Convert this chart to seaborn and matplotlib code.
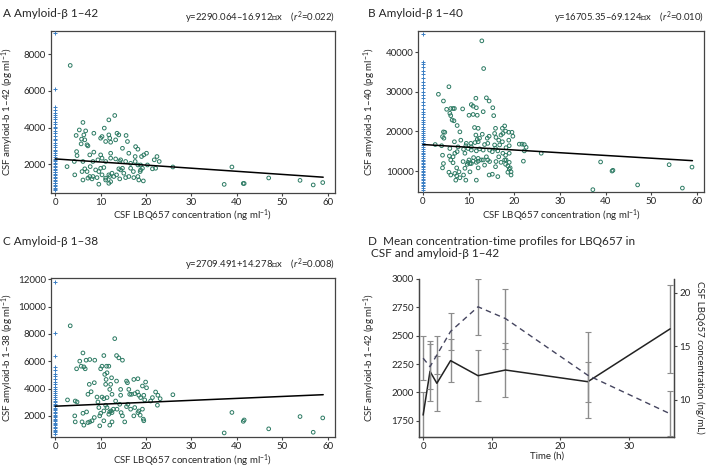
import numpy as np
import pandas as pd
import seaborn as sns
import matplotlib.pyplot as plt

# ---- panel A: amyloid-beta 1-42 vs CSF LBQ657 ----
a_x = [3.3, 13.1, 11.8, 6.1, 10.8, 5.3, 6.7, 6.3, 4.6, 8.5, 10.3, 11.8, 13.6, 14.0, 15.6,
       5.8, 6.5, 10.0, 12.0, 13.3, 5.7, 7.0, 11.1, 12.2, 15.9, 7.2, 8.5, 7.6, 4.7, 4.8,
       10.0, 12.2, 14.8, 16.2, 17.7, 18.2, 19.0, 19.5, 20.1, 17.6, 2.6, 4.2, 6.1, 8.3, 9.4,
       10.3, 11.1, 12.2, 13.3, 14.4, 14.2, 15.5, 16.6, 17.6, 18.2, 18.8, 20.3, 21.8, 22.4, 22.9,
       22.1, 21.4, 4.3, 5.9, 6.5, 7.0, 7.7, 7.6, 6.1, 7.2, 8.1, 8.3, 9.6, 10.0, 10.7,
       10.3, 11.1, 11.8, 12.0, 12.5, 12.9, 12.2, 11.8, 13.5, 14.0, 14.4, 14.8, 15.1, 15.5, 16.2,
       16.6, 17.2, 17.3, 18.2, 18.4, 18.8, 19.2, 19.4, 18.7, 9.6, 11.1, 14.2, 8.9, 9.2,
       25.9, 37.2, 38.9, 41.4, 41.6, 47.0, 53.9, 56.8, 58.9]
a_y = [7390, 4660, 4420, 4280, 3970, 3870, 3820, 3600, 3570, 3690, 3510, 3600, 3690, 3600, 3570,
       3370, 3330, 3420, 3420, 3330, 3110, 3060, 3240, 3200, 3240, 3000, 2660, 2510, 2690, 2470,
       2510, 2600, 2870, 2600, 2960, 2820, 2420, 2510, 2600, 2420, 1870, 2150, 2150, 2150, 2240,
       2330, 2150, 2330, 2290, 2240, 2150, 2150, 2050, 2150, 1960, 1960, 1960, 2240, 2420, 2150,
       1780, 1750, 1420, 1600, 1750, 1600, 1870, 1330, 1140, 1240, 1200, 1330, 1600, 1780, 1820,
       1420, 1240, 1420, 1330, 1510, 1330, 1050, 960, 1420, 1750, 1690, 1780, 1510, 1270, 1330,
       1780, 1600, 1270, 1330, 1140, 1690, 1780, 1090, 1600, 910, 1140, 1200, 1690, 1270,
       1850, 900, 1850, 950, 950, 1250, 1120, 870, 1000]
a_zero = [9150, 6100, 5100, 4950, 4800, 4700, 4550, 4450, 4300, 4200, 4050, 3950, 3800, 3700,
          3550, 3400, 3300, 3150, 3050, 2950, 2800, 2700, 2600, 2500, 2400, 2300, 2250, 2150,
          2050, 2000, 1900, 1850, 1750, 1700, 1600, 1550, 1450, 1400, 1300, 1250, 1150, 1100,
          1000, 950, 850, 800, 700, 650, 600]

# ---- panel B: amyloid-beta 1-40 ----
b_x = [12.9, 13.3, 5.7, 3.4, 4.5, 11.6, 13.9, 14.5, 10.6, 11.0, 11.7, 6.1, 6.6, 6.9, 8.7,
       5.2, 15.3, 13.2, 5.9, 6.1, 6.4, 6.8, 10.1, 11.0, 11.9, 15.5, 7.5, 11.3, 12.1, 17.9,
       17.4, 18.1, 8.1, 15.9, 13.0, 14.5, 15.7, 17.5, 18.8, 19.5, 19.7, 17.1, 4.5, 4.8, 4.3,
       4.6, 11.6, 12.4, 14.1, 8.3, 11.9, 16.0, 14.2, 16.6, 17.4, 18.8, 6.9, 9.5, 10.5, 11.4,
       12.1, 13.5, 16.8, 15.7, 2.7, 4.1, 9.4, 10.6, 7.7, 14.6, 15.9, 18.2, 18.9, 21.1, 21.7,
       22.2, 22.6, 5.9, 8.9, 9.9, 12.4, 13.2, 11.7, 4.3, 5.8, 6.6, 7.5, 9.2, 10.6, 15.2,
       16.4, 17.5, 18.1, 18.9, 22.2, 6.1, 7.0, 10.1, 11.1, 12.1, 12.8, 13.9, 16.6, 17.9, 4.5,
       6.6, 8.8, 9.7, 10.3, 11.0, 12.1, 13.2, 14.2, 16.0, 18.2, 18.9, 22.0, 4.3, 7.4, 9.2,
       9.9, 10.6, 11.7, 12.1, 13.5, 14.6, 15.9, 17.1, 18.1, 18.6, 19.1, 5.7, 6.1, 7.0, 7.4,
       7.9, 8.1, 7.2, 8.9, 9.4, 10.3, 11.7, 14.5, 15.2, 16.4, 18.6, 19.3, 19.3, 18.9,
       25.9, 37.2, 38.9, 41.4, 41.6, 47.0, 53.9, 56.8, 58.9]
b_y = [42900, 35900, 31300, 29400, 27700, 28400, 28500, 27700, 26800, 26400, 26000, 25800, 25800, 25800, 25700,
       25600, 26000, 25000, 24600, 24000, 22900, 22700, 24100, 24300, 24100, 24000, 21500, 21000, 20800, 21400,
       20800, 20100, 19900, 20800, 19300, 18800, 19500, 19500, 19800, 19800, 18800, 19100, 19900, 19800, 18700,
       18300, 19100, 18300, 18300, 17800, 18000, 18500, 17000, 17800, 17400, 17800, 17400, 17000, 17000, 17200,
       17400, 16700, 16600, 16600, 16700, 16400, 16400, 16100, 16100, 15300, 15700, 15900, 16400, 16800, 16800,
       16700, 16000, 15700, 15500, 15700, 15600, 15300, 15100, 14000, 13800, 13600, 14900, 14500, 15300, 14900,
       15100, 14500, 14000, 14500, 15100, 12800, 14500, 12800, 13400, 13200, 12800, 13600, 13600, 12800, 11900,
       12100, 12400, 11700, 11900, 12500, 12500, 12800, 12800, 12400, 12800, 12200, 12500, 10800, 10800, 10700,
       12200, 11900, 12200, 10800, 11500, 12400, 11100, 12200, 11700, 11300, 10800, 9700, 9000, 9400, 8800,
       9800, 8300, 7700, 9000, 7700, 9800, 7700, 9000, 9200, 8600, 9700, 9000, 9800, 10500,
       14500, 5300, 12300, 10000, 10200, 6500, 11600, 5700, 11000]
b_zero = [44600, 37600, 37000, 36200, 35300, 34500, 33600, 32600, 31800, 30900, 30000, 29200,
          28400, 27500, 26600, 25700, 25000, 24300, 23600, 23000, 22400, 21800, 21200, 20600,
          20100, 19500, 19000, 18500, 18000, 17500, 17000, 16500, 16000, 15500, 15000, 14600,
          14200, 13800, 13300, 12900, 12500, 12100, 11700, 11300, 10900, 10500, 10100, 9700,
          9300, 8900, 8500, 8100, 7700, 7300, 6900, 6500, 6100, 5700, 5300]

# ---- panel C: amyloid-beta 1-38 ----
c_x = [3.3, 13.1, 10.7, 13.5, 14.0, 14.8, 6.1, 5.4, 6.8, 7.6, 4.7, 5.7, 6.3, 6.6, 8.7,
       10.3, 11.3, 11.8, 10.0, 10.9, 11.4, 12.4, 11.2, 12.2, 11.1, 7.5, 8.6, 13.5, 15.7, 15.9,
       17.3, 18.2, 19.2, 19.9, 20.1, 7.2, 7.9, 9.2, 10.3, 10.7, 11.4, 12.0, 12.5, 13.3, 14.4,
       14.4, 16.2, 16.4, 16.8, 17.5, 18.1, 18.4, 18.8, 19.5, 19.7, 21.4, 22.1, 22.6, 23.1, 22.5,
       21.0, 2.7, 4.4, 4.8, 4.3, 4.4, 6.1, 6.9, 5.9, 6.3, 7.2, 7.6, 8.1, 8.6, 9.6,
       9.8, 10.0, 10.7, 10.7, 11.4, 11.8, 12.0, 12.3, 12.5, 12.8, 9.8, 12.0, 12.5, 13.6, 14.2,
       14.5, 14.8, 15.3, 16.0, 16.6, 17.5, 17.3, 18.2, 18.4, 18.7, 19.2, 19.4, 19.5, 15.7, 9.4,
       11.1, 25.9, 37.2, 38.9, 41.4, 41.6, 47.0, 53.9, 56.8, 58.9]
c_y = [8600, 7660, 6420, 6420, 6250, 6080, 6610, 6010, 6080, 6130, 5450, 5640, 5590, 5450, 6080,
       5640, 5640, 5640, 5450, 5040, 5160, 4790, 4670, 4310, 4310, 4310, 4430, 4550, 4550, 4430,
       4670, 4720, 4190, 4480, 4060, 3580, 3770, 3380, 3380, 3260, 3340, 3940, 3580, 3090, 3510,
       3940, 3940, 3580, 3580, 3630, 3750, 3510, 3340, 3510, 3170, 3340, 3750, 3510, 3260, 2780,
       3090, 3170, 3090, 3020, 2000, 1560, 2190, 2290, 1560, 1320, 1510, 1560, 1640, 1880, 2610,
       2000, 2190, 2360, 1640, 2610, 2120, 2290, 2360, 2240, 2490, 1270, 1320, 1560, 2490, 2850,
       2240, 2000, 1560, 2850, 2490, 2610, 2000, 2240, 2360, 2050, 2490, 1760, 1640, 2680, 3020,
       2780, 3550, 750, 2250, 1600, 1700, 1050, 1950, 800, 1850]
c_zero = [11800, 8050, 6400, 5600, 5350, 5100, 4900, 4700, 4500, 4300, 4100, 3950, 3800, 3650,
          3500, 3350, 3200, 3100, 3000, 2900, 2800, 2700, 2600, 2500, 2400, 2300, 2200, 2100,
          2000, 1900, 1800, 1700, 1600, 1500, 1400, 1300, 1200, 1100, 1000, 900, 800, 700]

# fitted lines as printed on the figure: (intercept, slope, label)
fits = {
    "A": (2290.064, -16.912, "y=2290.064\u201316.912\u2217x    ($r^2$=0.022)"),
    "B": (16705.35, -69.124, "y=16705.35\u201369.124\u2217x    ($r^2$=0.010)"),
    "C": (2709.491, 14.278, "y=2709.491+14.278\u2217x    ($r^2$=0.008)"),
}

# ---- panel D: mean profiles over time ----
time_h = [0, 1, 2, 4, 8, 12, 24, 36]
abeta42_mean = [1800, 2185, 2080, 2280, 2147, 2197, 2094, 2560]
abeta42_err = [200, 265, 245, 190, 227, 238, 175, 385]
lbq_mean = [13.9, 13.1, 14.2, 16.4, 18.7, 17.6, 12.3, 8.7]
lbq_err = [2.05, 2.1, 1.8, 1.7, 2.6, 2.8, 4.0, 2.1]

sns.set_style("ticks")
plt.rcParams["font.family"] = ["Lato", "DejaVu Sans"]
plt.rcParams["mathtext.fontset"] = "custom"
plt.rcParams["mathtext.it"] = "Lato:italic"
plt.rcParams["mathtext.rm"] = "Lato"

GREEN = "#2c7a63"
BLUE = "#3b7fc4"
SPINE = "#444444"
XLAB = "CSF LBQ657 concentration (ng ml$^{-1}$)"

fig = plt.figure(figsize=(7.09, 4.68), dpi=100)
ax_a = fig.add_axes([0.0715, 0.5883, 0.401, 0.3455])
ax_b = fig.add_axes([0.590, 0.589, 0.4034, 0.3447])
ax_c = fig.add_axes([0.0715, 0.0655, 0.401, 0.341])
ax_d = fig.add_axes([0.591, 0.0669, 0.360, 0.337])


def style_ticks(ax):
    ax.tick_params(labelsize=7, length=2.5, width=0.8, color=SPINE, pad=1)
    for s in ax.spines.values():
        s.set_color(SPINE)
        s.set_linewidth(0.9)


def scatter_panel(ax, xs, ys, zeros, fit, ylim, yticks, ylabel, ylab_x):
    sns.scatterplot(x=[0] * len(zeros), y=zeros, ax=ax, marker="+", color=BLUE,
                    s=7, linewidth=0.7, zorder=3)
    sns.scatterplot(x=xs, y=ys, ax=ax, marker="o", color=GREEN, s=7,
                    linewidth=0.7, zorder=3)
    pts = ax.collections[-1]
    pts.set_facecolor("none")
    pts.set_edgecolor(GREEN)
    lx = np.array([0, 59.0])
    sns.lineplot(x=lx, y=fit[0] + fit[1] * lx, ax=ax, color="black", lw=1.1, zorder=4)
    ax.set_xlim(-1, 61.6)
    ax.set_ylim(*ylim)
    ax.set_xticks(range(0, 61, 10))
    ax.set_yticks(yticks)
    ax.set_xlabel(XLAB, fontsize=7, labelpad=0.5)
    ax.set_ylabel(ylabel, fontsize=7)
    ax.yaxis.set_label_coords(ylab_x, 0.5)
    style_ticks(ax)
    ax.text(1.0, 1.03, fit[2], transform=ax.transAxes, ha="right", va="bottom", fontsize=6.8)


scatter_panel(ax_a, a_x, a_y, a_zero, fits["A"], (448, 9270), [2000, 4000, 6000, 8000],
              "CSF amyloid-b 1\u201342 (pg ml$^{-1}$)", -0.122)
scatter_panel(ax_b, b_x, b_y, b_zero, fits["B"], (4620, 45380), [10000, 20000, 30000, 40000],
              "CSF amyloid-b 1\u201340 (pg ml$^{-1}$)", -0.141)
scatter_panel(ax_c, c_x, c_y, c_zero, fits["C"], (427, 12120), list(range(2000, 12001, 2000)),
              "CSF amyloid-b 1\u201338 (pg ml$^{-1}$)", -0.122)

# panel D with twin axis
ax_d2 = ax_d.twinx()
ax_d.errorbar(time_h, abeta42_mean, yerr=abeta42_err, fmt="none", ecolor="#8c8c8c",
              elinewidth=1, capsize=2.5, capthick=0.8, zorder=2)
sns.lineplot(x=time_h, y=abeta42_mean, ax=ax_d, color="#222222", lw=1.1, zorder=3)
ax_d2.errorbar(time_h, lbq_mean, yerr=lbq_err, fmt="none", ecolor="#8c8c8c",
               elinewidth=1, capsize=2.5, capthick=0.8, zorder=2)
sns.lineplot(x=time_h, y=lbq_mean, ax=ax_d2, color="#45455f", lw=1.0, zorder=3,
             linestyle=(0, (4, 3)))
ax_d.set_xlim(-0.6, 36.6)
ax_d.set_ylim(1609, 3000)
ax_d2.set_ylim(6.56, 21.3)
ax_d.set_xticks([0, 10, 20, 30])
ax_d.set_yticks([1750, 2000, 2250, 2500, 2750, 3000])
ax_d2.set_yticks([10, 15, 20])
ax_d.set_xlabel("Time (h)", fontsize=7, labelpad=1)
ax_d.set_ylabel("CSF amyloid-b 1\u201342 (pg ml$^{-1}$)", fontsize=7)
ax_d.yaxis.set_label_coords(-0.16, 0.5)
ax_d2.set_ylabel("CSF LBQ657 concentration (ng/mL)", fontsize=7, rotation=270, va="center")
ax_d2.yaxis.set_label_coords(1.10, 0.5)
for a in (ax_d, ax_d2):
    style_ticks(a)
    a.spines["top"].set_visible(False)

# panel titles
fig.text(0.004, 0.983, "A Amyloid-\u03b2 1\u201342", fontsize=8.5, va="top")
fig.text(0.519, 0.983, "B Amyloid-\u03b2 1\u201340", fontsize=8.5, va="top")
fig.text(0.004, 0.496, "C Amyloid-\u03b2 1\u201338", fontsize=8.5, va="top")
fig.text(0.519, 0.496, "D  Mean concentration-time profiles for LBQ657 in\n CSF and amyloid-\u03b2 1\u201342",
         fontsize=8.5, va="top", linespacing=1.15)

fig.savefig("out.png", dpi=100)
plt.close(fig)
